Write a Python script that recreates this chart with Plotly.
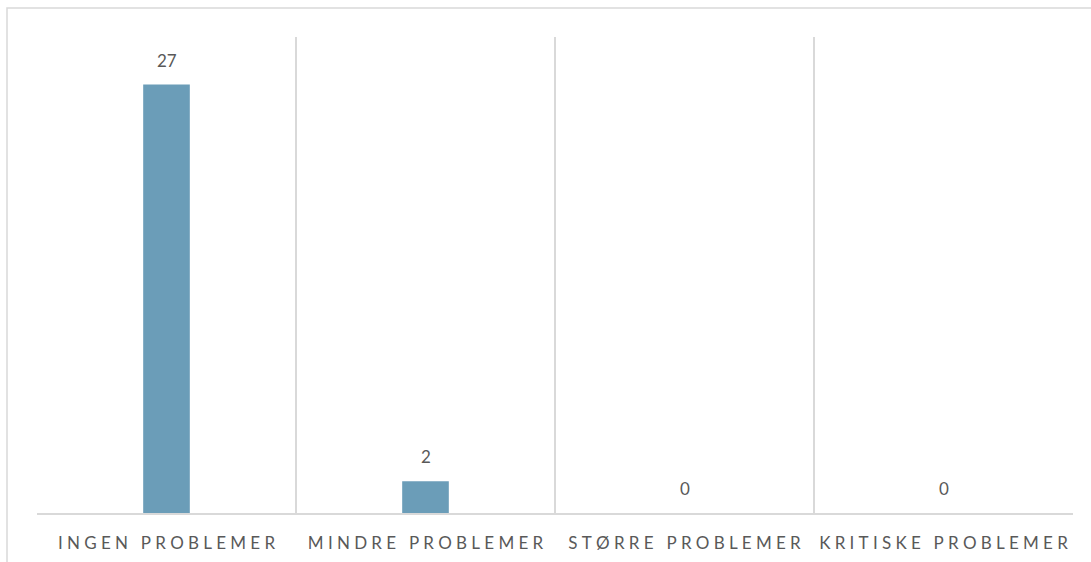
import plotly.graph_objects as go

categories = ["INGEN PROBLEMER", "MINDRE PROBLEMER", "STØRRE PROBLEMER", "KRITISKE PROBLEMER"]
values = [27, 2, 0, 0]

BAR_COLOR = "#6B9DB8"
TEXT_COLOR = "#595959"
GRID_COLOR = "#D9D9D9"
FONT = "Lato, 'Open Sans', sans-serif"


def spaced(label):
    # widen the tracking of the category labels with thin/hair spaces
    gap = "\u2009\u200A\u200A"
    return (gap + "\u00A0" + gap).join(gap.join(word) for word in label.split(" "))


xpos = list(range(len(categories)))

fig = go.Figure(
    go.Bar(
        x=xpos,
        y=values,
        marker=dict(color=BAR_COLOR, line=dict(width=0)),
        width=0.18,
        hoverinfo="skip",
    )
)

# value labels above each bar
for x, v in zip(xpos, values):
    fig.add_annotation(
        x=x, y=v, text=str(v), showarrow=False,
        yanchor="bottom", yshift=12,
        font=dict(family=FONT, size=17, color=TEXT_COLOR),
    )

fig.update_layout(
    width=1091, height=562,
    margin=dict(l=37, r=18, t=37, b=49, autoexpand=False),
    paper_bgcolor="white", plot_bgcolor="white",
    showlegend=False,
    font=dict(family=FONT, color=TEXT_COLOR),
    xaxis=dict(
        range=[-0.5, len(categories) - 0.5],
        tickvals=xpos,
        ticktext=[spaced(c) for c in categories],
        tickfont=dict(family=FONT, size=17, color=TEXT_COLOR),
        ticklabelstandoff=14,
        automargin=False,
        showgrid=False,
        minor=dict(tickvals=[i - 0.5 for i in range(len(categories) + 1)],
                   showgrid=True, gridcolor=GRID_COLOR, gridwidth=1.5, ticks=""),
        showline=True, linecolor=GRID_COLOR, linewidth=1.5,
        ticks="", zeroline=False,
    ),
    yaxis=dict(
        range=[0, 30],
        visible=False,
        showgrid=False, zeroline=False,
    ),
    shapes=[
        # outer chart frame, running off the right and bottom edges
        dict(type="rect", xref="paper", yref="paper",
             x0=(7 - 37) / 1036, x1=1.2, y0=-0.3, y1=1 + (37 - 8) / 476,
             line=dict(color=GRID_COLOR, width=1.5), fillcolor="rgba(0,0,0,0)",
             layer="below"),
    ],
)

fig.write_html("out.html")
